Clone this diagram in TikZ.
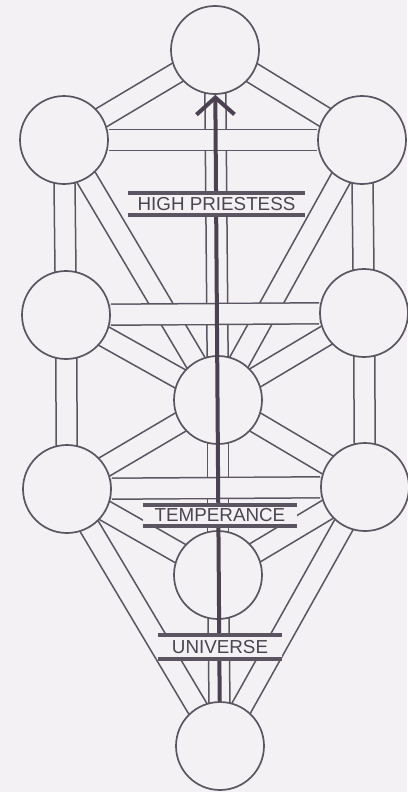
\documentclass[tikz,border=0pt]{standalone}
\usepackage{fontspec}
\setmainfont{Liberation Sans}
\usetikzlibrary{calc,arrows.meta}
\definecolor{bgc}{HTML}{F3F1F4}
\definecolor{linec}{HTML}{5A5560}
\definecolor{arrowc}{HTML}{4B4150}
\definecolor{textc}{HTML}{4A4550}
\pgfdeclarelayer{backlayer}
\pgfdeclarelayer{chanlayer}
\pgfdeclarelayer{frontlayer}
\pgfsetlayers{backlayer,chanlayer,main,frontlayer}
\newcommand\pathpair[2]{%
  \draw[chanline] ($(#1)!10.5pt!90:(#2)$) -- ($(#2)!10.5pt!-90:(#1)$);
  \draw[chanline] ($(#1)!10.5pt!-90:(#2)$) -- ($(#2)!10.5pt!90:(#1)$);}
\begin{document}
\begin{tikzpicture}[x=1pt,y=-1pt,
  sephira/.style={circle,draw=linec,line width=1.7pt,fill=bgc,minimum size=88pt,inner sep=0pt},
  chanline/.style={draw=linec,line width=1.5pt},
  band/.style={draw=linec,line width=1.5pt,double=bgc,double distance=19.5pt},
  ascent/.style={draw=arrowc,line width=4pt,-{Straight Barb[length=17pt,width=38pt]}},
  tarot/.style={fill=bgc,inner sep=0pt,text=textc,font=\fontsize{18.8}{20}\selectfont},
  bar/.style={draw=linec,line width=4pt}]
\begin{pgfonlayer}{backlayer}
\fill[bgc] (0,0) rectangle (407,792);
\end{pgfonlayer}
\useasboundingbox (0,0) rectangle (407,792);
% sephiroth
\node[sephira] (K)  at (215,50)  {};
\node[sephira] (L1) at (64,140)  {};
\node[sephira] (R1) at (362,140) {};
\node[sephira] (L2) at (66,315)  {};
\node[sephira] (R2) at (364,313) {};
\node[sephira] (T)  at (218,400) {};
\node[sephira] (L3) at (67,489)  {};
\node[sephira] (R3) at (365,487) {};
\node[sephira] (Y)  at (218,575) {};
\node[sephira] (M)  at (220,746) {};
% channels
\begin{pgfonlayer}{chanlayer}
\pathpair{K}{L1}
\pathpair{K}{R1}
\pathpair{K}{T}
\pathpair{L1}{L2}
\pathpair{R1}{R2}
\pathpair{L1}{T}
\pathpair{R1}{T}
\pathpair{L2}{L3}
\pathpair{R2}{R3}
\pathpair{L2}{T}
\pathpair{R2}{T}
\pathpair{T}{L3}
\pathpair{T}{R3}
\pathpair{T}{Y}
\pathpair{L3}{Y}
\pathpair{R3}{Y}
\pathpair{L3}{M}
\pathpair{R3}{M}
\pathpair{Y}{M}
\draw[band] (L1) -- (R1);
\draw[band] (L2) -- (R2);
\draw[band] (L3) -- (R3);
\end{pgfonlayer}
% arrow and labels
\begin{pgfonlayer}{frontlayer}
\draw[ascent] (M) -- (K);
\node[tarot,minimum width=177pt,minimum height=22pt] (hp) at (216.5,204) {HIGH PRIESTESS};
\draw[bar] (hp.north west) -- (hp.north east);
\draw[bar] (hp.south west) -- (hp.south east);
\node[tarot,minimum width=154pt,minimum height=21pt] (tp) at (220,515.5) {TEMPERANCE};
\draw[bar] (tp.north west) -- (tp.north east);
\draw[bar] (tp.south west) -- (tp.south east);
\node[tarot,minimum width=124pt,minimum height=24pt] (un) at (220,647) {UNIVERSE};
\draw[bar] (un.north west) -- (un.north east);
\draw[bar] (un.south west) -- (un.south east);
\end{pgfonlayer}
\end{tikzpicture}
\end{document}
